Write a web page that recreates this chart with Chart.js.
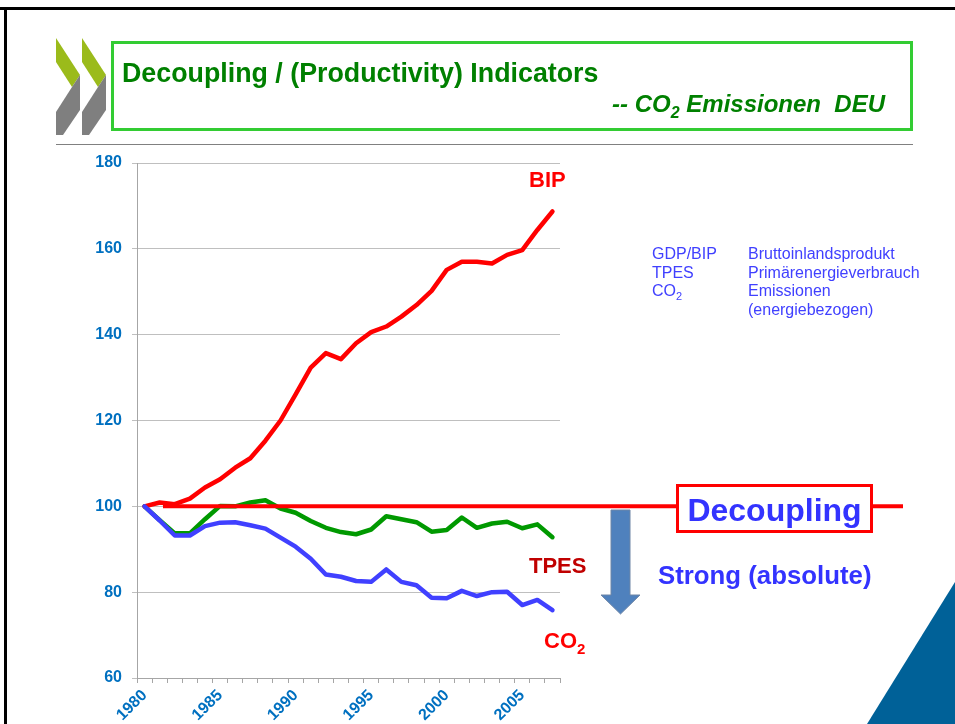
<!DOCTYPE html>
<html lang="de">
<head>
<meta charset="UTF-8"/>
<title>Decoupling / (Productivity) Indicators</title>
<script src="https://cdn.jsdelivr.net/npm/chart.js"></script>
<style>
  html, body { margin: 0; padding: 0; background: #ffffff; }
  body { width: 955px; height: 724px; position: relative; overflow: hidden; font-family: 'Liberation Sans', Arial, sans-serif; }
  .chart-wrap { position: absolute; left: 0; top: 0; width: 955px; height: 724px; }
  #overlay { position: absolute; left: 0; top: 0; width: 955px; height: 724px; pointer-events: none; }
  #overlay text { font-family: 'Liberation Sans', Arial, sans-serif; white-space: pre; }
</style>
</head>
<body>

<div class="chart-wrap"><canvas id="decouplingChart"></canvas></div>

<svg id="overlay" width="955" height="724" xmlns="http://www.w3.org/2000/svg">
  <!-- slide frame -->
  <rect x="0" y="7" width="955" height="3" fill="#000"/>
  <rect x="4" y="7" width="3" height="717" fill="#000"/>

  <!-- logo chevrons -->
  <g>
    <polygon points="56,38 80,75 72,87 56,62" fill="#9bbb1b"/>
    <polygon points="72,87 80,75 80,110 63,135 56,135 56,112" fill="#7f7f7f"/>
    <polygon points="82,38 106,75 98,87 82,62" fill="#9bbb1b"/>
    <polygon points="98,87 106,75 106,110 89,135 82,135 82,112" fill="#7f7f7f"/>
  </g>

  <!-- title box -->
  <rect x="112.5" y="42.5" width="799" height="87" fill="none" stroke="#33cc33" stroke-width="3"/>
  <text x="122" y="82" font-size="26.8" font-weight="bold" fill="#008000">Decoupling / (Productivity) Indicators</text>
  <text x="885" y="112" font-size="24" font-weight="bold" font-style="italic" fill="#008000" text-anchor="end">-- CO<tspan font-size="16" dy="6">2</tspan><tspan dy="-6"> Emissionen&#160; DEU</tspan></text>
  <rect x="56" y="144" width="857" height="1" fill="#808080"/>

  <!-- series labels -->
  <text x="529" y="187" font-size="22" font-weight="bold" fill="#ff0000">BIP</text>
  <text x="529" y="573" font-size="22" font-weight="bold" fill="#c00000">TPES</text>
  <text x="544" y="648" font-size="22" font-weight="bold" fill="#ff0000">CO<tspan font-size="15" dy="6">2</tspan></text>

  <!-- abbreviations -->
  <g font-size="16" fill="#4040ff">
    <text x="652" y="259">GDP/BIP</text>
    <text x="652" y="277.5">TPES</text>
    <text x="652" y="296">CO<tspan font-size="11" dy="4">2</tspan></text>
    <text x="748" y="259">Bruttoinlandsprodukt</text>
    <text x="748" y="277.5">Primärenergieverbrauch</text>
    <text x="748" y="296">Emissionen</text>
    <text x="748" y="314.5">(energiebezogen)</text>
  </g>

  <!-- decoupling marker -->
  <polygon points="611,510 630,510 630,595 640,595 620.5,614 601,595 611,595" fill="#4f81bd" stroke="#6f86a6" stroke-width="1"/>
  <rect x="677.5" y="485.5" width="194" height="46" fill="#ffffff" stroke="#ff0000" stroke-width="3"/>
  <text x="774.5" y="521" font-size="32" font-weight="bold" fill="#3333ff" text-anchor="middle">Decoupling</text>
  <text x="658" y="584" font-size="25.8" font-weight="bold" fill="#3333ff">Strong (absolute)</text>

  <!-- corner triangle -->
  <polygon points="867,724 955,724 955,582" fill="#006198"/>
</svg>

<script>
// years on the category axis
const years = [1980, 1981, 1982, 1983, 1984, 1985, 1986, 1987, 1988, 1989,
               1990, 1991, 1992, 1993, 1994, 1995, 1996, 1997, 1998, 1999,
               2000, 2001, 2002, 2003, 2004, 2005, 2006, 2007];

// index values, 1980 = 100
const bip = [100, 100.9, 100.5, 101.8, 104.4, 106.3, 109.0, 111.2, 115.3, 120.0,
             126.1, 132.3, 135.7, 134.3, 138.0, 140.6, 141.9, 144.2, 146.9, 150.2,
             155.1, 157.0, 157.0, 156.6, 158.6, 159.7, 164.4, 168.7];
const tpes = [100, 96.8, 93.7, 93.7, 97.0, 100.1, 100.0, 100.9, 101.4, 99.5,
              98.5, 96.6, 95.0, 94.0, 93.5, 94.6, 97.7, 97.0, 96.3, 94.1,
              94.5, 97.4, 95.0, 96.0, 96.4, 94.9, 95.8, 92.8];
const co2 = [100, 96.7, 93.2, 93.2, 95.4, 96.2, 96.3, 95.6, 94.8, 92.7,
             90.6, 87.8, 84.1, 83.6, 82.6, 82.4, 85.3, 82.4, 81.6, 78.7,
             78.6, 80.3, 79.1, 80.0, 80.1, 77.0, 78.2, 75.8];

const yTicks = [60, 80, 100, 120, 140, 160, 180];
const baseline = 100;

const tickFont = { family: "'Liberation Sans', Arial, sans-serif", size: 16, weight: 'bold' };

// red reference line at the base year level, runs out past the plot to the box
const baselinePlugin = {
  id: 'baselinePlugin',
  afterDatasetsDraw(chart) {
    const ctx = chart.ctx;
    const y = chart.scales.y.getPixelForValue(baseline);
    ctx.save();
    ctx.strokeStyle = '#ff0000';
    ctx.lineWidth = 4;
    ctx.beginPath();
    ctx.moveTo(163, y);
    ctx.lineTo(903, y);
    ctx.stroke();
    ctx.restore();
  }
};

new Chart(document.getElementById('decouplingChart'), {
  type: 'line',
  data: {
    labels: years,
    datasets: [
      { label: 'CO2', data: co2, borderColor: '#4040ff' },
      { label: 'BIP', data: bip, borderColor: '#ff0000' },
      { label: 'TPES', data: tpes, borderColor: '#009900' }
    ]
  },
  options: {
    responsive: true,
    maintainAspectRatio: false,
    animation: false,
    devicePixelRatio: 1,
    layout: { padding: { left: 92, right: 395, top: 163, bottom: 0 } },
    elements: {
      line: { borderWidth: 4.5, tension: 0, borderCapStyle: 'round', borderJoinStyle: 'round', fill: false },
      point: { radius: 0, hoverRadius: 0 }
    },
    plugins: {
      legend: { display: false },
      tooltip: { enabled: false }
    },
    scales: {
      x: {
        type: 'category',
        offset: true,
        afterFit(scale) { scale.height = 46; },
        grid: { offset: true, drawOnChartArea: false, drawTicks: true, tickLength: 5, color: '#a6a6a6' },
        border: { color: '#a6a6a6' },
        ticks: {
          autoSkip: false,
          minRotation: 45,
          maxRotation: 45,
          padding: 3,
          color: '#0070c0',
          font: tickFont,
          callback: (v, i) => (years[i] % 5 === 0 ? String(years[i]) : '')
        }
      },
      y: {
        min: yTicks[0],
        max: yTicks[yTicks.length - 1],
        afterFit(scale) { scale.width = 45; },
        afterBuildTicks(scale) { scale.ticks = yTicks.map(v => ({ value: v })); },
        grid: { color: '#bfbfbf', tickLength: 5, drawTicks: true },
        border: { color: '#a6a6a6' },
        ticks: { padding: 10, color: '#0070c0', font: tickFont }
      }
    }
  },
  plugins: [baselinePlugin]
});
</script>
</body>
</html>
